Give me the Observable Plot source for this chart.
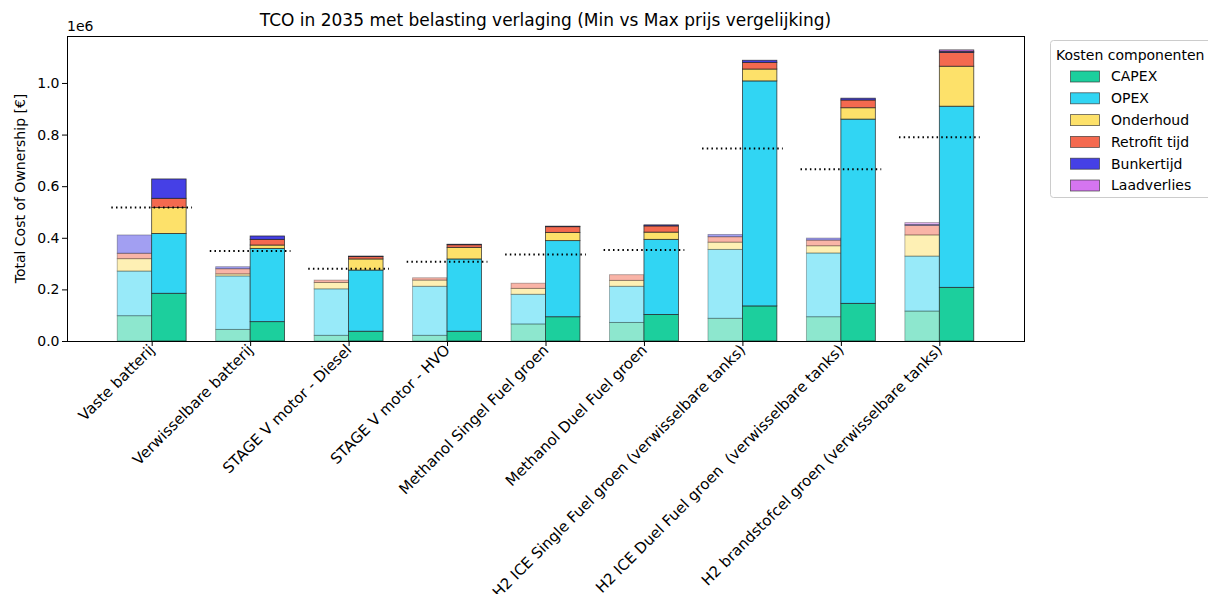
<!DOCTYPE html>
<html>
<head>
<meta charset="utf-8">
<script src="https://cdn.jsdelivr.net/npm/d3@7"></script>
<script src="https://cdn.jsdelivr.net/npm/@observablehq/plot@0.6"></script>
<style>
  html, body { margin: 0; padding: 0; background: #fff; }
  #chart { width: 1208px; height: 594px; }
</style>
</head>
<body>
<div id="chart"></div>
<script>
const categories = [
  "Vaste batterij",
  "Verwisselbare batterij",
  "STAGE V motor - Diesel",
  "STAGE V motor - HVO",
  "Methanol Singel Fuel groen",
  "Methanol Duel Fuel groen",
  "H2 ICE Single Fuel groen (verwisselbare tanks)",
  "H2 ICE Duel Fuel groen  (verwisselbare tanks)",
  "H2 brandstofcel groen (verwisselbare tanks)"
];
const components = ["CAPEX", "OPEX", "Onderhoud", "Retrofit tijd", "Bunkertijd", "Laadverlies"];
const componentColors = ["#1ccf9d", "#31d5f3", "#fde16a", "#f4694f", "#4540e6", "#d575f0"];

// Min price scenario (€)
const minCapex     = [98000, 45000, 22000, 22000, 66000, 72000, 88000, 94000, 116000];
const minOpex      = [173000, 207000, 180000, 190000, 115000, 140000, 267000, 247000, 213000];
const minOnderhoud = [48000, 8000, 25000, 24000, 23000, 23000, 28000, 28000, 82000];
const minRetrofit  = [21000, 20000, 9000, 9000, 20000, 22000, 21000, 22000, 37000];
const minBunker    = [71000, 8000, 0, 0, 0, 0, 9000, 8000, 4000];
const minLaad      = [0, 0, 0, 0, 0, 0, 0, 0, 7000];

// Max price scenario (€)
const maxCapex     = [185000, 75000, 38000, 38000, 94000, 103000, 136000, 146000, 208000];
const maxOpex      = [232000, 284000, 237000, 280000, 295000, 291000, 872000, 714000, 702000];
const maxOnderhoud = [100000, 13000, 43000, 45000, 32000, 28000, 46000, 44000, 155000];
const maxRetrofit  = [36000, 22000, 9000, 10000, 22000, 24000, 26000, 30000, 53000];
const maxBunker    = [75000, 13000, 2000, 2000, 2000, 4000, 8000, 7000, 4000];
const maxLaad      = [0, 0, 0, 0, 0, 0, 0, 0, 6000];

// Dotted reference line per category (€)
const refLine = [519000, 351000, 282000, 309000, 337000, 355000, 748000, 668000, 792000];

const yTicks = [0, 200000, 400000, 600000, 800000, 1000000];

// Build stacked table
const scenarios = [
  {key: "min", offset: -0.175, series: [minCapex, minOpex, minOnderhoud, minRetrofit, minBunker, minLaad]},
  {key: "max", offset: 0.175, series: [maxCapex, maxOpex, maxOnderhoud, maxRetrofit, maxBunker, maxLaad]}
];
const barW = 0.35;
const rows = [];
categories.forEach((cat, i) => {
  scenarios.forEach(s => {
    let acc = 0;
    components.forEach((comp, k) => {
      const v = s.series[k][i];
      if (v > 0) {
        rows.push({cat, i, scenario: s.key, comp, x1: i + s.offset - barW / 2, x2: i + s.offset + barW / 2, y1: acc, y2: acc + v});
      }
      acc += v;
    });
  });
});
const refRows = refLine.map((v, i) => ({i, v}));

const font = "DejaVu Sans, sans-serif";

const chart = Plot.plot({
  width: 1208,
  height: 594,
  marginLeft: 67,
  marginRight: 184,
  marginTop: 36,
  marginBottom: 253,
  style: {fontFamily: font, color: "#000", background: "#fff"},
  x: {domain: [-0.86, 8.86]},
  y: {domain: [0, 1182000]},
  color: {domain: components, range: componentColors},
  marks: [
    Plot.rect(rows.filter(d => d.scenario === "min"), {x1: "x1", x2: "x2", y1: "y1", y2: "y2", fill: "comp", fillOpacity: 0.5, stroke: "#000", strokeOpacity: 0.3, strokeWidth: 0.9}),
    Plot.rect(rows.filter(d => d.scenario === "max"), {x1: "x1", x2: "x2", y1: "y1", y2: "y2", fill: "comp", stroke: "#222", strokeOpacity: 0.85, strokeWidth: 0.8}),
    Plot.ruleY(refRows, {y: "v", x1: d => d.i - 0.41, x2: d => d.i + 0.41, stroke: "#000", strokeWidth: 2, strokeDasharray: "1.5,3.2"}),
    Plot.axisX({ticks: d3.range(categories.length), tickFormat: i => categories[i], tickRotate: -45, tickSize: 5, tickPadding: 1, fontSize: 15, label: null}),
    Plot.axisY({ticks: yTicks, tickFormat: d => (d / 1e6).toFixed(1), tickSize: 5, tickPadding: 3, fontSize: 14, label: null}),
    Plot.frame({stroke: "#000", strokeWidth: 1})
  ]
});

document.getElementById("chart").appendChild(chart);

const svg = d3.select(chart);

svg.append("text")
  .attr("x", 545.5).attr("y", 26)
  .attr("text-anchor", "middle")
  .attr("font-family", font).attr("font-size", 17)
  .attr("fill", "#000")
  .text("TCO in 2035 met belasting verlaging (Min vs Max prijs vergelijking)");

svg.append("text")
  .attr("x", 67).attr("y", 31)
  .attr("text-anchor", "start")
  .attr("font-family", font).attr("font-size", 14)
  .attr("fill", "#000")
  .text("1e6");

svg.append("text")
  .attr("transform", "translate(20,188.5) rotate(-90)")
  .attr("text-anchor", "middle").attr("dy", "0.35em")
  .attr("font-family", font).attr("font-size", 14)
  .attr("fill", "#000")
  .text("Total Cost of Ownership [€]");

// Legend
const lg = svg.append("g").attr("text-anchor", "start");
lg.append("rect")
  .attr("x", 1050.5).attr("y", 40.5).attr("width", 175).attr("height", 157)
  .attr("rx", 3).attr("fill", "#fff").attr("stroke", "#ccc");
lg.append("text")
  .attr("x", 1056).attr("y", 60)
  .attr("text-anchor", "start")
  .attr("font-family", font).attr("font-size", 14).attr("fill", "#000")
  .text("Kosten componenten");
components.forEach((c, k) => {
  const cy = 76.5 + k * 21.8;
  lg.append("rect")
    .attr("x", 1070.5).attr("y", cy - 5.5).attr("width", 29).attr("height", 11)
    .attr("fill", componentColors[k]).attr("stroke", "#333").attr("stroke-opacity", 0.8).attr("stroke-width", 0.8);
  lg.append("text")
    .attr("x", 1111).attr("y", cy).attr("dy", "0.35em")
    .attr("text-anchor", "start")
    .attr("font-family", font).attr("font-size", 14).attr("fill", "#000")
    .text(c);
});
</script>
</body>
</html>
